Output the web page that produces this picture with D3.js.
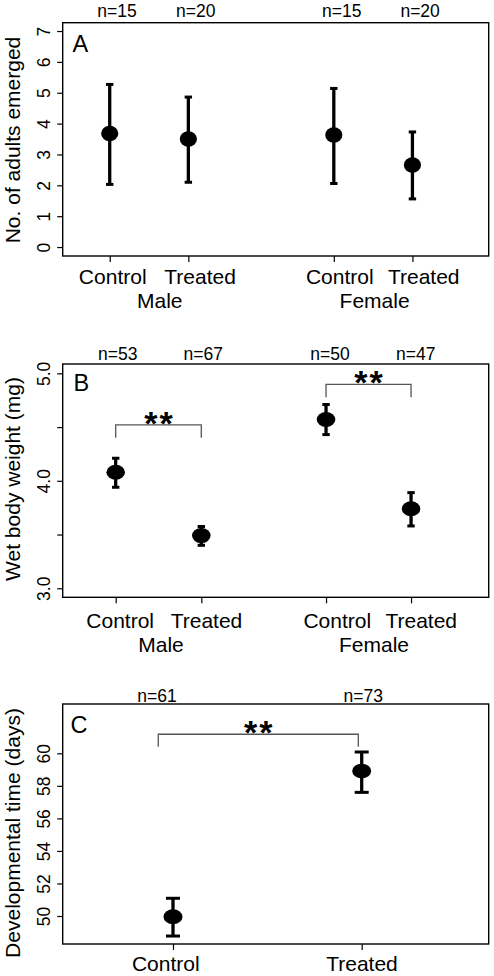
<!DOCTYPE html>
<html><head><meta charset="utf-8">
<script src="https://cdn.jsdelivr.net/npm/d3@7"></script>
<style>
body{margin:0;background:#fff}
svg{display:block}
text{font-family:"Liberation Sans",Arial,Helvetica,sans-serif;fill:#000}
</style>
</head><body>
<svg id="chart" width="494" height="976"></svg>
<script>
// ---------- DATA ----------
// Panel A: No. of adults emerged
const aConditions = ["Control", "Treated", "Control", "Treated"];
const aGroups = ["Male", "Female"];
const aN = ["n=15", "n=20", "n=15", "n=20"];
const aMean = [3.68, 3.50, 3.63, 2.66];
const aLower = [2.03, 2.10, 2.06, 1.56];
const aUpper = [5.27, 4.86, 5.14, 3.73];
const aTicks = [0, 1, 2, 3, 4, 5, 6, 7];
const aTickLabels = ["0", "1", "2", "3", "4", "5", "6", "7"];

// Panel B: Wet body weight (mg)
const bConditions = ["Control", "Treated", "Control", "Treated"];
const bGroups = ["Male", "Female"];
const bN = ["n=53", "n=67", "n=50", "n=47"];
const bMean = [4.08, 3.49, 4.57, 3.74];
const bLower = [3.94, 3.40, 4.43, 3.58];
const bUpper = [4.21, 3.575, 4.71, 3.89];
const bTicks = [3.0, 3.5, 4.0, 4.5, 5.0];
const bTickLabels = ["3.0", "", "4.0", "", "5.0"];
const bSignif = ["**", "**"];

// Panel C: Developmental time (days)
const cConditions = ["Control", "Treated"];
const cN = ["n=61", "n=73"];
const cMean = [49.96, 58.91];
const cLower = [48.77, 57.60];
const cUpper = [51.09, 60.08];
const cTicks = [50, 52, 54, 56, 58, 60];
const cTickLabels = ["50", "52", "54", "56", "58", "60"];
const cSignif = ["**"];

// ---------- LAYOUT ----------
const svg = d3.select("#chart");
svg.append("rect").attr("width", 494).attr("height", 976).attr("fill", "#fff");

const panels = [
  {
    letter: "A", title: "No. of adults emerged", titleY: 140,
    box: {l: 62.7, r: 488.7, t: 22.7, b: 256},
    yDomain: [-0.29, 7.27], xDomain: [0.402, 5.82], pos: [1, 2, 3.85, 4.85],
    mean: aMean, lower: aLower, upper: aUpper,
    ticks: aTicks, tickLabels: aTickLabels,
    conds: aConditions, condOff: [3, 11.7, 6, 11.3], condBase: 283.8,
    groups: aGroups, groupOff: [10.7, 1.5], groupBase: 307.5,
    n: aN, nOff: [7.3, 7.4, 8, 7.7], nBase: 17,
    brackets: [], signif: [],
    rx: 8.6, ry: 7.7, cap: 3.7,
    letterX: 72.5, letterBase: 52.3
  },
  {
    letter: "B", title: "Wet body weight (mg)", titleY: 479,
    box: {l: 62.7, r: 488.7, t: 364, b: 597.3},
    yDomain: [2.916, 5.087], xDomain: [0.381, 5.357], pos: [1, 2, 3.457, 4.45],
    mean: bMean, lower: bLower, upper: bUpper,
    ticks: bTicks, tickLabels: bTickLabels,
    conds: bConditions, condOff: [4.5, 5.2, 11.2, 10.2], condBase: 627.5,
    groups: bGroups, groupOff: [2.5, 5.5], groupBase: 651.5,
    n: bN, nOff: [2, 2, 4, 4.7], nBase: 359.5,
    brackets: [{x1: 1, x2: 2, y: 4.52, yLeg: 4.40}, {x1: 3.457, x2: 4.45, y: 4.898, yLeg: 4.777}],
    signif: bSignif,
    rx: 9.3, ry: 7.5, cap: 3.7,
    letterX: 73.5, letterBase: 391
  },
  {
    letter: "C", title: "Developmental time (days)", titleY: 833,
    box: {l: 62.7, r: 488.7, t: 704, b: 944},
    yDomain: [48.28, 63.03], xDomain: [0.4155, 2.673], pos: [1, 2],
    mean: cMean, lower: cLower, upper: cUpper,
    ticks: cTicks, tickLabels: cTickLabels,
    conds: cConditions, condOff: [-7.2, 0.3], condBase: 970.5,
    groups: [], groupOff: [], groupBase: 0,
    n: cN, nOff: [-16, 1.6], nBase: 701.7,
    brackets: [{x1: 0.922, x2: 1.982, y: 61.17, yLeg: 60.41}],
    signif: cSignif,
    rx: 9.5, ry: 7.4, cap: 7,
    letterX: 70.5, letterBase: 732.7
  }
];

panels.forEach(p => {
  const x = d3.scaleLinear().domain(p.xDomain).range([p.box.l, p.box.r]);
  const y = d3.scaleLinear().domain(p.yDomain).range([p.box.b, p.box.t]);
  const g = svg.append("g");

  // Y axis (ticks + rotated labels)
  const yAx = g.append("g").attr("transform", `translate(${p.box.l},0)`)
    .call(d3.axisLeft(y).tickValues(p.ticks).tickSize(5.5).tickSizeOuter(0)
      .tickFormat((d, i) => p.tickLabels[i]));
  yAx.select(".domain").remove();
  yAx.selectAll(".tick line").attr("stroke", "#000").attr("stroke-width", 1.2);
  yAx.selectAll(".tick text")
    .attr("transform", "rotate(-90)")
    .attr("x", 0).attr("y", -12.4).attr("dy", 0)
    .attr("text-anchor", "middle")
    .attr("fill", "#000")
    .style("font-size", "17.5px")
    .style("font-family", "'Liberation Sans', Arial, sans-serif");

  // X axis ticks
  const xAx = g.append("g").attr("transform", `translate(0,${p.box.b})`)
    .call(d3.axisBottom(x).tickValues(p.pos).tickSize(6).tickSizeOuter(0).tickFormat(""));
  xAx.select(".domain").remove();
  xAx.selectAll(".tick line").attr("stroke", "#000").attr("stroke-width", 1.2);

  // Box
  g.append("rect")
    .attr("x", p.box.l).attr("y", p.box.t)
    .attr("width", p.box.r - p.box.l).attr("height", p.box.b - p.box.t)
    .attr("fill", "none").attr("stroke", "#000").attr("stroke-width", 1.4);

  // Y title
  g.append("text")
    .attr("transform", `translate(19.5,${p.titleY}) rotate(-90)`)
    .attr("text-anchor", "middle")
    .style("font-size", "21px")
    .text(p.title);

  // Panel letter
  g.append("text").attr("x", p.letterX).attr("y", p.letterBase)
    .style("font-size", "23.5px").text(p.letter);

  // n labels
  g.selectAll(".nlab").data(p.n).join("text")
    .attr("x", (d, i) => x(p.pos[i]) + p.nOff[i]).attr("y", p.nBase)
    .attr("text-anchor", "middle").style("font-size", "17.5px").text(d => d);

  // condition labels
  g.selectAll(".cond").data(p.conds).join("text")
    .attr("x", (d, i) => x(p.pos[i]) + p.condOff[i]).attr("y", p.condBase)
    .attr("text-anchor", "middle").style("font-size", "21px").text(d => d);

  // group labels
  g.selectAll(".grp").data(p.groups).join("text")
    .attr("x", (d, i) => (x(p.pos[2 * i]) + x(p.pos[2 * i + 1])) / 2 + p.groupOff[i])
    .attr("y", p.groupBase)
    .attr("text-anchor", "middle").style("font-size", "21px").text(d => d);

  // Brackets + significance
  p.brackets.forEach((b, i) => {
    g.append("path")
      .attr("d", `M${x(b.x1)},${y(b.yLeg)}V${y(b.y)}H${x(b.x2)}V${y(b.yLeg)}`)
      .attr("fill", "none").attr("stroke", "#555").attr("stroke-width", 1.3);
    g.append("text")
      .attr("x", (x(b.x1) + x(b.x2)) / 2 + 1).attr("y", y(b.y) + 10)
      .attr("text-anchor", "middle")
      .style("font-size", "34px").style("font-weight", "bold")
      .style("letter-spacing", "2px")
      .text(p.signif[i]);
  });

  // Error bars
  const idx = d3.range(p.mean.length);
  g.selectAll(".eb").data(idx).join("line")
    .attr("x1", i => x(p.pos[i])).attr("x2", i => x(p.pos[i]))
    .attr("y1", i => y(p.lower[i])).attr("y2", i => y(p.upper[i]))
    .attr("stroke", "#000").attr("stroke-width", 3.3);
  ["lower", "upper"].forEach(k => {
    g.selectAll(".cap" + k).data(idx).join("line")
      .attr("x1", i => x(p.pos[i]) - p.cap).attr("x2", i => x(p.pos[i]) + p.cap)
      .attr("y1", i => y(p[k][i])).attr("y2", i => y(p[k][i]))
      .attr("stroke", "#000").attr("stroke-width", 3);
  });

  // Means
  g.selectAll(".dot").data(idx).join("ellipse")
    .attr("cx", i => x(p.pos[i])).attr("cy", i => y(p.mean[i]))
    .attr("rx", p.rx).attr("ry", p.ry).attr("fill", "#000");
});
</script>
</body></html>
